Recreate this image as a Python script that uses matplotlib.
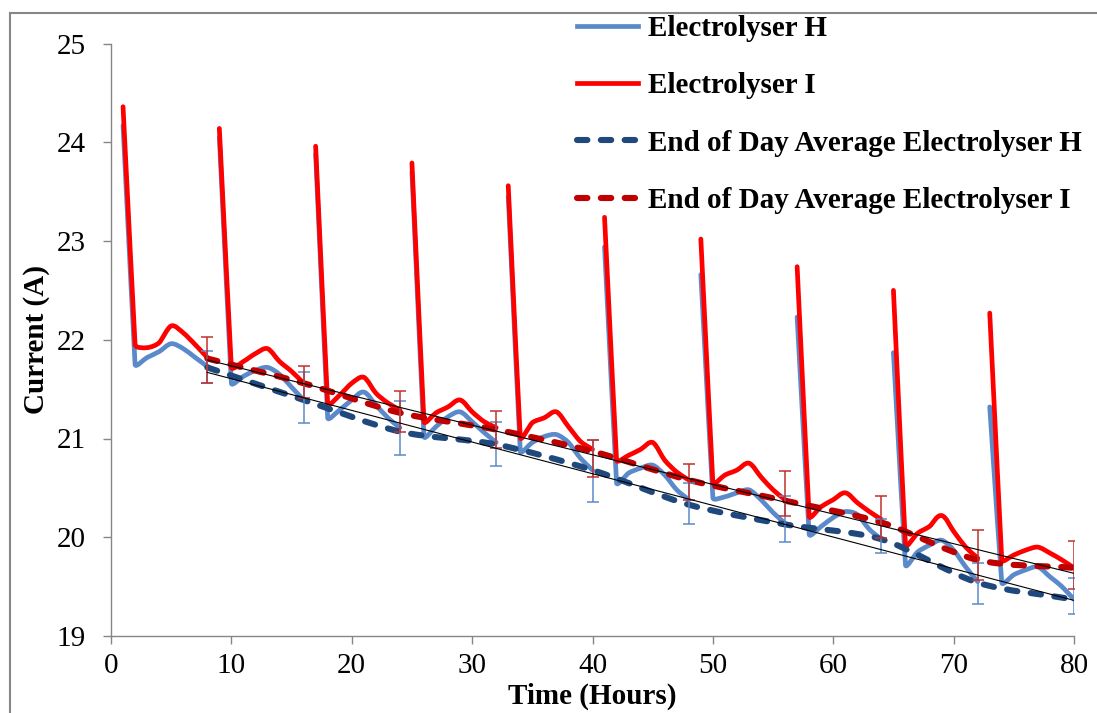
import numpy as np
import matplotlib
matplotlib.use("Agg")
import matplotlib.pyplot as plt
from matplotlib.path import Path
from matplotlib.patches import PathPatch, Rectangle
from matplotlib.lines import Line2D

# ---------------- data ----------------
hours = list(range(1, 81))
hours_per_day = 8

current_h = [
    24.17, 21.75, 21.82, 21.88, 21.96, 21.91, 21.82, 21.73,
    24.05, 21.56, 21.63, 21.69, 21.72, 21.65, 21.52, 21.39,
    23.88, 21.21, 21.29, 21.39, 21.47, 21.34, 21.21, 21.11,
    23.70, 21.02, 21.12, 21.22, 21.27, 21.17, 21.06, 20.96,
    23.45, 20.87, 20.96, 21.02, 21.04, 20.96, 20.80, 20.68,
    22.94, 20.55, 20.65, 20.70, 20.73, 20.63, 20.48, 20.38,
    22.66, 20.40, 20.41, 20.45, 20.48, 20.38, 20.25, 20.14,
    22.23, 20.03, 20.11, 20.20, 20.26, 20.23, 20.08, 19.98,
    21.87, 19.72, 19.85, 19.92, 19.97, 19.87, 19.70, 19.55,
    21.32, 19.54, 19.62, 19.67, 19.70, 19.60, 19.50, 19.37,
]

current_i = [
    24.36, 21.95, 21.92, 21.97, 22.14, 22.07, 21.95, 21.82,
    24.14, 21.72, 21.78, 21.86, 21.91, 21.78, 21.68, 21.56,
    23.96, 21.35, 21.44, 21.56, 21.62, 21.46, 21.36, 21.29,
    23.79, 21.17, 21.26, 21.32, 21.39, 21.27, 21.17, 21.11,
    23.56, 21.01, 21.16, 21.21, 21.27, 21.12, 20.97, 20.89,
    23.24, 20.78, 20.83, 20.89, 20.96, 20.78, 20.66, 20.58,
    23.02, 20.55, 20.63, 20.68, 20.75, 20.61, 20.48, 20.38,
    22.74, 20.21, 20.31, 20.38, 20.45, 20.35, 20.26, 20.18,
    22.50, 19.92, 20.04, 20.11, 20.22, 20.06, 19.90, 19.79,
    22.27, 19.77, 19.82, 19.87, 19.90, 19.84, 19.77, 19.69,
]

eod_hours = [8, 16, 24, 32, 40, 48, 56, 64, 72, 80]

eod_h = [21.72, 21.39, 21.07, 20.94, 20.68, 20.33, 20.13, 19.98, 19.54, 19.37]
eod_h_low = [21.56, 21.16, 20.83, 20.72, 20.36, 20.13, 19.95, 19.84, 19.32, 19.22]
eod_h_high = [21.89, 21.67, 21.38, 21.17, 20.98, 20.55, 20.42, 20.18, 19.74, 19.59]

eod_i = [21.81, 21.56, 21.26, 21.09, 20.87, 20.58, 20.37, 20.15, 19.77, 19.69]
eod_i_low = [21.56, 21.41, 21.07, 20.90, 20.61, 20.38, 20.22, 19.99, 19.57, 19.48]
eod_i_high = [22.03, 21.73, 21.48, 21.28, 20.98, 20.74, 20.67, 20.42, 20.07, 19.96]

x_ticks = [0, 10, 20, 30, 40, 50, 60, 70, 80]
y_ticks = [19, 20, 21, 22, 23, 24, 25]

labels = [
    "Electrolyser H",
    "Electrolyser I",
    "End of Day Average Electrolyser H",
    "End of Day Average Electrolyser I",
]

# ---------------- style ----------------
plt.rcParams["font.family"] = ["Liberation Serif", "DejaVu Serif"]
GREY = "#868686"
BLUE = "#5B8ACB"
RED = "#FF0000"
DARK_BLUE = "#1F497D"
DARK_RED = "#C00000"
ERR_BLUE = "#5B8ACB"
ERR_RED = "#C0302E"

W, H = 1097, 713
fig = plt.figure(figsize=(W / 100, H / 100), dpi=100)
ax = fig.add_axes([111 / W, (H - 636) / H, (1074 - 111) / W, (636 - 43.5) / H])
ax.set_xlim(0, 80)
ax.set_ylim(19, 25)


def smooth_path(x, y, k=0.3):
    """Smoothed polyline through the points (cubic Bezier; the handle at each
    point is limited by its shorter neighbouring segment)."""
    pts = ax.transData.transform(np.column_stack([x, y]))
    n = len(pts)
    seg = np.hypot(*(np.diff(pts, axis=0).T))

    def tangent(i):
        d = pts[min(i + 1, n - 1)] - pts[max(i - 1, 0)]
        L = np.hypot(*d)
        return d / L if L > 0 else d

    def handle(i):
        near = [seg[j] for j in (i - 1, i) if 0 <= j < n - 1]
        return k * min(near)

    verts = [pts[0]]
    codes = [Path.MOVETO]
    for i in range(n - 1):
        p1, p2 = pts[i], pts[i + 1]
        verts += [p1 + tangent(i) * handle(i), p2 - tangent(i + 1) * handle(i + 1), p2]
        codes += [Path.CURVE4] * 3
    return Path(ax.transData.inverted().transform(np.array(verts)), codes)


def draw_smooth(x, y, **kw):
    ax.add_patch(PathPatch(smooth_path(x, y), fill=False, **kw))


# hourly currents, one smoothed run per day
hrs = np.array(hours)
for series, color, z in ((current_h, BLUE, 2), (current_i, RED, 3)):
    vals = np.array(series)
    for start in range(0, len(hrs), hours_per_day):
        sl = slice(start, start + hours_per_day)
        draw_smooth(hrs[sl], vals[sl], edgecolor=color, lw=3.4,
                    capstyle="round", joinstyle="round", zorder=z)

# end of day averages
dash = (0, (1.7, 2.2))
draw_smooth(eod_hours, eod_h, edgecolor=DARK_BLUE, lw=4.4, linestyle=dash,
            capstyle="round", zorder=4)
draw_smooth(eod_hours, eod_i, edgecolor=DARK_RED, lw=4.4, linestyle=dash,
            capstyle="round", zorder=5)

# error bars
eh = np.array(eod_h)
ei = np.array(eod_i)
ax.errorbar(eod_hours, eh, yerr=[eh - np.array(eod_h_low), np.array(eod_h_high) - eh],
            fmt="none", ecolor=ERR_BLUE, elinewidth=1.1, capsize=4.5, capthick=1.1,
            zorder=6)
ax.errorbar(eod_hours, ei, yerr=[ei - np.array(eod_i_low), np.array(eod_i_high) - ei],
            fmt="none", ecolor=ERR_RED, elinewidth=1.1, capsize=4.5, capthick=1.1,
            zorder=6)

# linear trend lines of the daily averages
xe = np.array(eod_hours, dtype=float)
for vals in (eh, ei):
    m, c = np.polyfit(xe, vals, 1)
    ax.plot(xe[[0, -1]], m * xe[[0, -1]] + c, color="black", lw=0.8, zorder=7)

# axes styling
for s in ("top", "right"):
    ax.spines[s].set_visible(False)
for s in ("left", "bottom"):
    ax.spines[s].set_color(GREY)
    ax.spines[s].set_linewidth(1.0)
ax.set_xticks(x_ticks)
ax.set_yticks(y_ticks)
ax.tick_params(axis="both", direction="out", length=6, width=1.0, color=GREY,
               labelsize=21, labelcolor="black")
ax.tick_params(axis="y", pad=12)
ax.tick_params(axis="x", pad=6)
ax.set_xlabel("Time (Hours)", fontsize=21, fontweight="bold", labelpad=3)
ax.set_ylabel("Current (A)", fontsize=21, fontweight="bold", labelpad=5)

# legend
handles = [
    Line2D([], [], color=BLUE, lw=3.4),
    Line2D([], [], color=RED, lw=3.4),
    Line2D([], [], color=DARK_BLUE, lw=4.4, linestyle=dash, dash_capstyle="round"),
    Line2D([], [], color=DARK_RED, lw=4.4, linestyle=dash, dash_capstyle="round"),
]
fig.legend(handles, labels, loc="upper left", bbox_to_anchor=(577 / W, 1 - 15 / H),
           frameon=False, borderpad=0, borderaxespad=0, handlelength=2.1,
           handletextpad=0.35, labelspacing=1.04,
           prop={"family": ["Liberation Serif"], "weight": "bold", "size": 21})

# chart area border
fig.add_artist(Rectangle((10 / W, -0.1), 1.2, (H - 13) / H + 0.1,
                         transform=fig.transFigure, fill=False,
                         edgecolor=GREY, lw=1.5, clip_on=False))

fig.savefig("out.png", dpi=100)
